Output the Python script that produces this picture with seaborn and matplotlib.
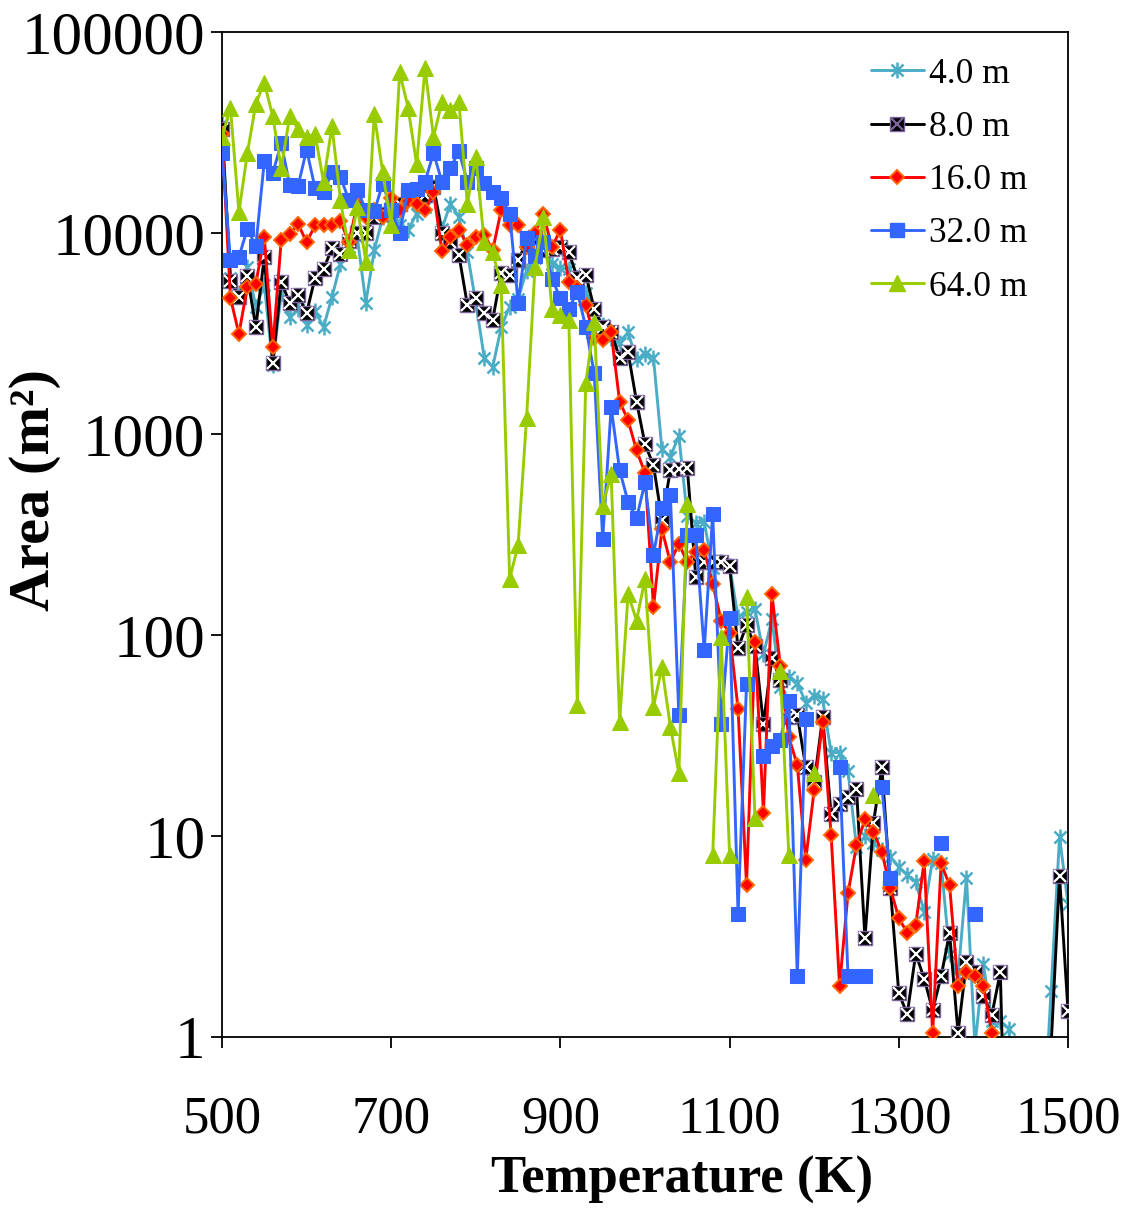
import numpy as np
import pandas as pd
import matplotlib
matplotlib.use("Agg")
import matplotlib.pyplot as plt
from matplotlib.path import Path
from matplotlib.lines import Line2D
from matplotlib.legend_handler import HandlerTuple
from matplotlib.ticker import NullLocator
import seaborn as sns

nan = np.nan
temperature = np.arange(500, 1501, 10)

area_4m = [
    35000, 6000, 5000, 6800, 4300, 5500, 2200, 5000, 3800, 4200,
    3500, 4100, 3400, 4800, 7000, 8500, 9500, 4500, 8200, 12000,
    13500, 11000, 10300, 12500, 13500, 17000, 10500, 14000, 12000, 8000,
    4500, 2400, 2150, 3400, 4300, 4700, 6500, 7500, 8500, 7000,
    6700, 6600, 6000, 5000, 4200, 3500, 3000, 2850, 3200, 2350,
    2500, 2400, 840, 770, 980, 390, 360, 365, 215, 230,
    220, 123, 130, 135, 80, 120, 55, 62, 58, 46,
    50, 48, 26, 26, 21, 8.8, 10, 9.2, 8.5, 7.9,
    7.0, 6.4, 5.9, 4.2, 7.7, 7.3, 2.6, 2.0, 6.2, 0.9,
    2.3, 1.2, 1.2, 1.1, 0.3, 0.3, 0.3, 0.3, 1.7, 9.9,
    4.6,
]

area_8m = [
    33000, 5800, 4800, 6100, 3400, 7600, 2250, 5700, 4500, 4900,
    4000, 6000, 6600, 8400, 7900, 9100, 10000, 10000, 12000, 12500,
    13000, 14000, 15500, 15000, 15500, 17000, 10000, 9000, 7800, 4400,
    4750, 4000, 3700, 6300, 6200, 7300, 9000, 9500, 8200, 8300,
    8500, 8000, 6000, 6200, 4200, 3400, 3200, 2400, 2550, 1450,
    890, 700, 375, 660, 670, 680, 195, 230, 230, 230,
    220, 86, 112, 88, 36, 77, 60, 39, 40, 22,
    18.5, 39, 12.8, 14.5, 15.7, 17.2, 3.1, 11.6, 22, 5.5,
    1.65, 1.3, 2.6, 1.95, 1.36, 2.0, 3.3, 1.05, 2.36, 2.1,
    1.6, 1.29, 2.1, 0.05, 0.05, 0.05, 0.05, 0.05, 0.9, 6.3,
    1.35,
]

area_16m = [
    31000, 4750, 3150, 5400, 5600, 9500, 2700, 9200, 9900, 11100,
    9000, 10900, 11000, 10900, 11500, 9000, 14000, 12000, 13000, 12000,
    15000, 13000, 14500, 14000, 13000, 16000, 8100, 9500, 10400, 8700,
    9600, 9800, 8200, 13000, 10900, 10900, 8500, 10000, 12400, 8500,
    10400, 5700, 5300, 4400, 3000, 2950, 3200, 1450, 1170, 830,
    640, 138, 335, 230, 285, 230, 260, 265, 180, 118,
    102, 43, 5.7, 92, 13, 160, 70, 31, 22.6, 7.6,
    17, 37, 10.1, 1.8, 5.2, 9.0, 12.1, 10.5, 8.3, 5.5,
    3.9, 3.3, 3.6, 7.5, 1.05, 7.3, 5.7, 1.8, 2.1, 2.0,
    1.8, 1.05, nan, nan, nan, nan, nan, nan, nan, nan,
    nan,
]

area_32m = [
    25000, 7300, 7600, 10500, 8600, 22800, 19800, 28000, 17300, 17200,
    26000, 16700, 16000, 20000, 19000, 14600, 16400, 13000, 12800, 17600,
    13000, 10000, 16400, 16600, 18000, 25000, 18000, 21000, 25500, 18000,
    21000, 17700, 16000, 15000, 12500, 4500, 9400, 7700, 9000, 5900,
    4750, 4200, 5100, 3400, 2000, 300, 1360, 660, 460, 380,
    575, 250, 430, 500, 40, 315, 315, 84, 400, 36,
    122, 4.1, 57, nan, 25, 28, 30, 47, 2.0, 38,
    nan, nan, nan, 22, 2.0, 2.0, 2.0, nan, 17.5, 6.2,
    nan, nan, nan, nan, nan, 9.2, nan, nan, nan, 4.1,
    nan, nan, nan, nan, nan, nan, nan, nan, nan, nan,
    nan,
]

area_64m = [
    30000, 42000, 12700, 25000, 44000, 56000, 38000, 21000, 38000, 33000,
    30000, 31000, 18000, 34000, 14600, 8200, 13500, 7200, 39000, 20000,
    11000, 63000, 42000, 22000, 66000, 30000, 45000, 41000, 45000, 14000,
    24000, 9000, 8000, 5500, 190, 280, 1200, 6800, 12000, 4200,
    3900, 3700, 45, 1800, 3600, 440, 630, 37, 160, 118,
    190, 44, 69, 35, 20.6, 450, nan, nan, 8, 98,
    8, nan, 155, 12.3, nan, nan, 66, 8, nan, nan,
    20.6, nan, nan, nan, nan, nan, nan, 16, nan, nan,
    nan, nan, nan, nan, nan, nan, nan, nan, nan, nan,
    nan, nan, nan, nan, nan, nan, nan, nan, nan, nan,
    nan,
]

series_labels = ["4.0 m", "8.0 m", "16.0 m", "32.0 m", "64.0 m"]
y_ticks = [1, 10, 100, 1000, 10000, 100000]
x_ticks = [500, 700, 900, 1100, 1300, 1500]

sns.set_theme(style="ticks")
plt.rcParams["font.family"] = ["Liberation Serif", "DejaVu Serif"]
plt.rcParams["axes.linewidth"] = 1.3
plt.rcParams["text.color"] = "black"
plt.rcParams["axes.labelcolor"] = "black"

# asterisk marker: vertical bar plus an X
asterisk = Path(
    [(0, -1), (0, 1), (-0.75, -0.75), (0.75, 0.75), (-0.75, 0.75), (0.75, -0.75)],
    [Path.MOVETO, Path.LINETO] * 3,
)

fig = plt.figure(figsize=(11.29, 12.10), dpi=100)
ax = fig.add_axes([0.19663, 0.14298, 0.74934, 0.83058])
ax.set_yscale("log")


def draw_series(values, zorder, **style):
    """Draw one series, breaking the line wherever a value is missing."""
    s = pd.Series(values, index=temperature, dtype=float)
    valid = s.notna()
    run_id = (valid != valid.shift()).cumsum()
    for _, seg in s[valid].groupby(run_id[valid]):
        sns.lineplot(x=seg.index.to_numpy(), y=seg.to_numpy(), ax=ax,
                     estimator=None, sort=False, legend=False,
                     zorder=zorder, **style)


teal = "#4BACC6"
purple = "#7E649E"
red = "#FF0000"
orange = "#FF6600"
blue = "#3366FF"
green = "#99CC00"
lw = 2.1

style_4m = dict(color=teal, linewidth=lw, marker=asterisk, markersize=11.5,
                markeredgewidth=1.8, markeredgecolor=teal)
style_8m = dict(color="black", linewidth=lw, marker="s", markersize=10,
                markerfacecolor="black", markeredgecolor=purple, markeredgewidth=1.0)
style_8m_x = dict(color=purple, linestyle="none", marker="x", markersize=8,
                  markeredgewidth=1.6)
style_16m = dict(color=red, linewidth=lw, marker="D", markersize=7.5,
                 markerfacecolor=red, markeredgecolor=orange, markeredgewidth=1.4)
style_32m = dict(color=blue, linewidth=lw, marker="s", markersize=10.5,
                 markerfacecolor=blue, markeredgecolor=blue)
style_64m = dict(color=green, linewidth=lw, marker="^", markersize=11.5,
                 markerfacecolor=green, markeredgecolor=green)

draw_series(area_4m, 2, **style_4m)
draw_series(area_8m, 3, **style_8m)
s8 = pd.Series(area_8m, index=temperature, dtype=float).dropna()
sns.lineplot(x=s8.index.to_numpy(), y=s8.to_numpy(), ax=ax, estimator=None,
             sort=False, legend=False, zorder=3.5, **style_8m_x)
draw_series(area_16m, 4, **style_16m)
draw_series(area_32m, 5, **style_32m)
draw_series(area_64m, 6, **style_64m)

ax.set_xlim(500, 1500)
ax.set_ylim(1, 100000)
ax.set_xticks(x_ticks)
ax.set_xticklabels([str(t) for t in x_ticks])
ax.set_yticks(y_ticks)
ax.set_yticklabels([str(t) for t in y_ticks])
ax.yaxis.set_minor_locator(NullLocator())
ax.xaxis.set_minor_locator(NullLocator())
ax.tick_params(axis="both", which="major", direction="out", length=8,
               width=1.3, colors="black")
ax.tick_params(axis="x", labelsize=38, pad=34)
ax.tick_params(axis="y", labelsize=44, pad=4)
for side in ["top", "right", "left", "bottom"]:
    ax.spines[side].set_visible(True)
    ax.spines[side].set_color("black")

ax.set_xlabel("Temperature (K)", fontsize=38, fontweight="bold", color="black")
ax.xaxis.set_label_coords(0.544, -0.118)
ax.set_ylabel("Area (m²)", fontsize=42, fontweight="bold", color="black")
ax.yaxis.set_label_coords(-0.19, 0.544)

# legend handles
h4 = Line2D([], [], **style_4m)
h8 = (Line2D([], [], **style_8m), Line2D([], [], **style_8m_x))
h16 = Line2D([], [], **style_16m)
h32 = Line2D([], [], **style_32m)
h64 = Line2D([], [], **style_64m)
leg = ax.legend([h4, h8, h16, h32, h64], series_labels, loc="upper right",
                bbox_to_anchor=(0.99, 1.006), frameon=False, fontsize=25.5,
                handlelength=1.5, handletextpad=0.15, labelspacing=0.57,
                handler_map={tuple: HandlerTuple(ndivide=1)})
for txt in leg.get_texts():
    txt.set_color("black")

fig.savefig("out.png", dpi=100)
